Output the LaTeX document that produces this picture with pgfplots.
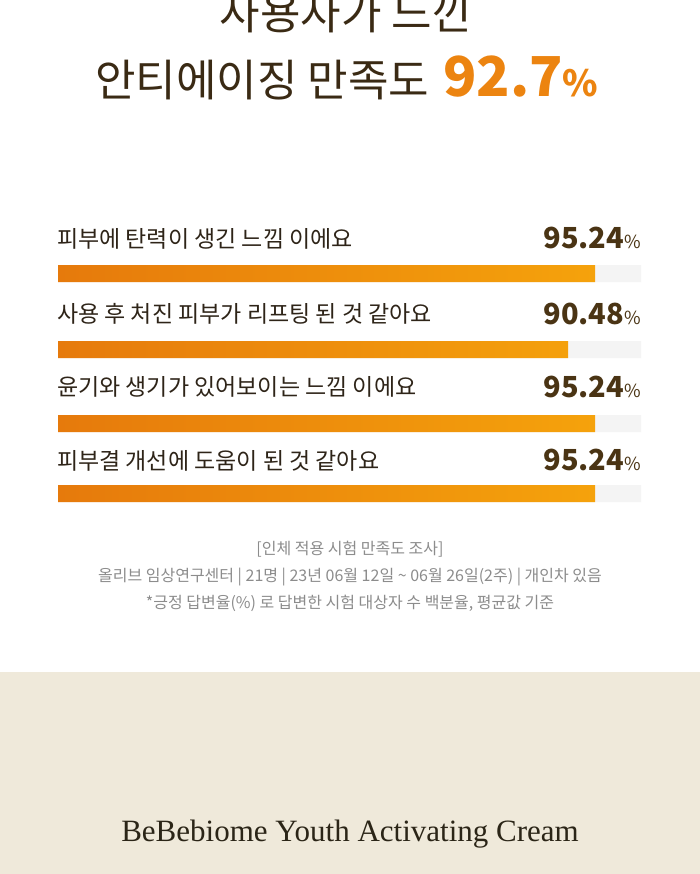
\documentclass[border=0pt]{standalone}
\usepackage{pgfplots}
\pgfplotsset{compat=1.18}
\usepackage{fontspec}
\setmainfont{Noto Sans CJK KR}
\newfontfamily\brandfont{Liberation Serif}
\definecolor{titlec}{HTML}{3A2A14}
\definecolor{labelc}{HTML}{2E2418}
\definecolor{valc}{HTML}{4A3414}
\definecolor{orangeT}{HTML}{EC8410}
\definecolor{barL}{HTML}{E67A0C}
\definecolor{barR}{HTML}{F5A20C}
\definecolor{track}{HTML}{F4F4F4}
\definecolor{notec}{HTML}{8C8C8C}
\definecolor{beige}{HTML}{EFE9DA}
\definecolor{brandc}{HTML}{2B2517}
\begin{document}
\begin{tikzpicture}[x=1pt,y=-1pt]
\useasboundingbox (0,0) rectangle (700,874);
\clip (0,0) rectangle (700,874);
\fill[white] (0,0) rectangle (700,672);
\fill[beige] (0,672) rectangle (700,874);
% title
\node[anchor=base, inner sep=0pt, text=titlec, font=\fontsize{44}{48}\selectfont] at (346,30) {사용자가 느낀};
\node[anchor=base, inner sep=0pt, text=titlec] at (347,97) {{\fontsize{44}{48}\selectfont 안티에이징 만족도}\hspace{14pt}{\color{orangeT}\bfseries\fontsize{55}{58}\selectfont 92.7{\fontsize{36}{38}\selectfont\%}}};
% bars
\begin{axis}[at={(58pt,-250pt)}, anchor=north west, scale only axis,
  width=583pt, height=260pt, xmin=0, xmax=103.4, ymin=250, ymax=510,
  y dir=reverse, hide axis, clip=false]
\addplot[xbar, bar shift=0pt, bar width=17pt, draw=none, fill=track, forget plot]
  coordinates {(103.4,273.5) (103.4,349.5) (103.4,423.5) (103.4,493.5)};
\addplot[xbar, bar shift=0pt, bar width=17pt, draw=none, left color=barL, right color=barR]
  coordinates {(95.24,273.5) (90.48,349.5) (95.24,423.5) (95.24,493.5)};
\end{axis}
% labels
\begin{scope}[every node/.style={inner sep=0pt, font=\fontsize{23}{26}\selectfont}]
\node[anchor=base west, text=labelc] at (57,248) {피부에 탄력이 생긴 느낌 이에요};
\node[anchor=base west, text=labelc] at (57,322) {사용 후 처진 피부가 리프팅 된 것 같아요};
\node[anchor=base west, text=labelc] at (57,395) {윤기와 생기가 있어보이는 느낌 이에요};
\node[anchor=base west, text=labelc] at (57,469) {피부결 개선에 도움이 된 것 같아요};
\end{scope}
\begin{scope}[every node/.style={inner sep=0pt, text=valc}]
\node[anchor=base east] at (641,249) {{\bfseries\fontsize{29}{32}\selectfont 95.24}{\fontsize{18}{20}\selectfont\%}};
\node[anchor=base east] at (641,324) {{\bfseries\fontsize{29}{32}\selectfont 90.48}{\fontsize{18}{20}\selectfont\%}};
\node[anchor=base east] at (641,397) {{\bfseries\fontsize{29}{32}\selectfont 95.24}{\fontsize{18}{20}\selectfont\%}};
\node[anchor=base east] at (641,470) {{\bfseries\fontsize{29}{32}\selectfont 95.24}{\fontsize{18}{20}\selectfont\%}};
\end{scope}
% notes
\begin{scope}[every node/.style={inner sep=0pt, anchor=base, text=notec, font=\fontsize{16}{19}\selectfont}]
\node at (350,554) {[인체 적용 시험 만족도 조사]};
\node at (350,581) {올리브 임상연구센터 | 21명 | 23년 06월 12일 \textasciitilde{} 06월 26일(2주) | 개인차 있음};
\node at (350,608) {*긍정 답변율(\%) 로 답변한 시험 대상자 수 백분율, 평균값 기준};
\end{scope}
\node[anchor=base, inner sep=0pt, text=brandc, font=\brandfont\fontsize{31}{34}\selectfont] at (350,841) {BeBebiome Youth Activating Cream};
\end{tikzpicture}
\end{document}
